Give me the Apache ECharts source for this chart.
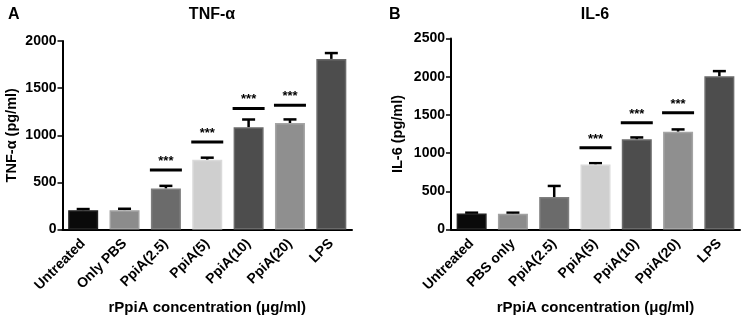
<!DOCTYPE html>
<html><head><meta charset="utf-8">
<script src="https://cdn.jsdelivr.net/npm/echarts@6/dist/echarts.min.js"></script>
<style>html,body{margin:0;padding:0;background:#fff}#c{width:743px;height:325px}</style>
</head><body><div id="c"></div>
<script>
var catsA = ['Untreated','Only PBS','PpiA(2.5)','PpiA(5)','PpiA(10)','PpiA(20)','LPS'];
var meanA = [205, 205, 435, 740, 1085, 1130, 1810];
var errA  = [12, 15, 28, 22, 82, 38, 62];
var sigA  = [null, null, 630, 928, 1285, 1318, null];

var catsB = ['Untreated','PBS only','PpiA(2.5)','PpiA(5)','PpiA(10)','PpiA(20)','LPS'];
var meanB = [210, 205, 425, 850, 1180, 1280, 2005];
var errB  = [10, 15, 145, 18, 25, 30, 68];
var sigB  = [null, null, null, 1070, 1398, 1528, null];

var yTicksA = [0, 500, 1000, 1500, 2000];
var yTicksB = [0, 500, 1000, 1500, 2000, 2500];

var barColors  = ['#0a0a0a','#8c8c8c','#6b6b6b','#cfcfcf','#4d4d4d','#8f8f8f','#4d4d4d'];
var barBorders = ['#222222','#a2a2a2','#7f7f7f','#dadada','#6a6a6a','#a5a5a5','#6a6a6a'];

var FONT = 'Liberation Sans, Arial, sans-serif';

function barData(vals){
  return vals.map(function(v,i){return {value:v,itemStyle:{color:barColors[i],borderColor:barBorders[i],borderWidth:1.5}};});
}
function errData(m,e){ return m.map(function(v,i){return [i,v,v+e[i]];}); }
function sigData(s){ var d=[]; s.forEach(function(v,i){ if(v!=null) d.push([i,v]); }); return d; }

function errRender(params, api){
  var i=api.value(0), lo=api.coord([i,api.value(1)]), hi=api.coord([i,api.value(2)]);
  var hw=6.5;
  return {type:'group',children:[
    {type:'line',shape:{x1:lo[0],y1:lo[1],x2:hi[0],y2:hi[1]},style:{stroke:'#000',lineWidth:2.5}},
    {type:'line',shape:{x1:hi[0]-hw,y1:hi[1],x2:hi[0]+hw,y2:hi[1]},style:{stroke:'#000',lineWidth:2.5}}
  ]};
}
function sigRender(params, api){
  var p=api.coord([api.value(0),api.value(1)]);
  var hw=16;
  return {type:'group',children:[
    {type:'line',shape:{x1:p[0]-hw,y1:p[1],x2:p[0]+hw,y2:p[1]},style:{stroke:'#000',lineWidth:3}},
    {type:'text',style:{text:'***',x:p[0],y:p[1]-2,align:'center',verticalAlign:'bottom',font:'bold 13px '+FONT,fill:'#000'}}
  ]};
}

function xAxis(cats, gi){
  return {type:'category',gridIndex:gi,data:cats,
    axisLine:{lineStyle:{color:'#000',width:2}},
    axisTick:{alignWithLabel:true,length:4,lineStyle:{color:'#000',width:1.5}},
    axisLabel:{rotate:45,margin:12,color:'#000',fontFamily:FONT,fontWeight:'bold',fontSize:14,interval:0},
    name:'rPpiA concentration (\u03bcg/ml)',nameLocation:'middle',nameGap:71,
    nameTextStyle:{color:'#000',fontFamily:FONT,fontWeight:'bold',fontSize:15}};
}
function yAxis(gi, max, ticks, name, gap){
  return {type:'value',gridIndex:gi,min:ticks[0],max:max,interval:ticks[1]-ticks[0],
    axisLine:{show:true,lineStyle:{color:'#000',width:2}},
    axisTick:{show:true,length:5,lineStyle:{color:'#000',width:1.5}},
    splitLine:{show:false},
    axisLabel:{color:'#000',fontFamily:FONT,fontWeight:'bold',fontSize:14,margin:6,
      formatter:function(v){return String(v);}},
    name:name,nameLocation:'middle',nameRotate:90,nameGap:gap,
    nameTextStyle:{color:'#000',fontFamily:FONT,fontWeight:'bold',fontSize:14.5}};
}

var chart = echarts.init(document.getElementById('c'));
chart.setOption({
  animation:false,
  title:[
    {text:'A',left:3,top:2,textStyle:{fontFamily:FONT,fontWeight:'bold',fontSize:16,color:'#000'}},
    {text:'TNF-\u03b1',left:207,top:2,textAlign:'center',textStyle:{fontFamily:FONT,fontWeight:'bold',fontSize:16,color:'#000'}},
    {text:'B',left:384,top:2,textStyle:{fontFamily:FONT,fontWeight:'bold',fontSize:16,color:'#000'}},
    {text:'IL-6',left:590,top:2,textAlign:'center',textStyle:{fontFamily:FONT,fontWeight:'bold',fontSize:16,color:'#000'}}
  ],
  grid:[
    {left:62.5,right:391,top:41,bottom:95.5},
    {left:451,right:3,top:38.5,bottom:95.5}
  ],
  xAxis:[xAxis(catsA,0), xAxis(catsB,1)],
  yAxis:[yAxis(0,2000,yTicksA,'TNF-\u03b1 (pg/ml)',43), yAxis(1,2500,yTicksB,'IL-6 (pg/ml)',46)],
  series:[
    {type:'bar',xAxisIndex:0,yAxisIndex:0,data:barData(meanA),barWidth:30,z:2},
    {type:'custom',xAxisIndex:0,yAxisIndex:0,data:errData(meanA,errA),renderItem:errRender,z:1},
    {type:'custom',xAxisIndex:0,yAxisIndex:0,data:sigData(sigA),renderItem:sigRender,z:3},
    {type:'bar',xAxisIndex:1,yAxisIndex:1,data:barData(meanB),barWidth:30,z:2},
    {type:'custom',xAxisIndex:1,yAxisIndex:1,data:errData(meanB,errB),renderItem:errRender,z:1},
    {type:'custom',xAxisIndex:1,yAxisIndex:1,data:sigData(sigB),renderItem:sigRender,z:3}
  ]
});
</script></body></html>
